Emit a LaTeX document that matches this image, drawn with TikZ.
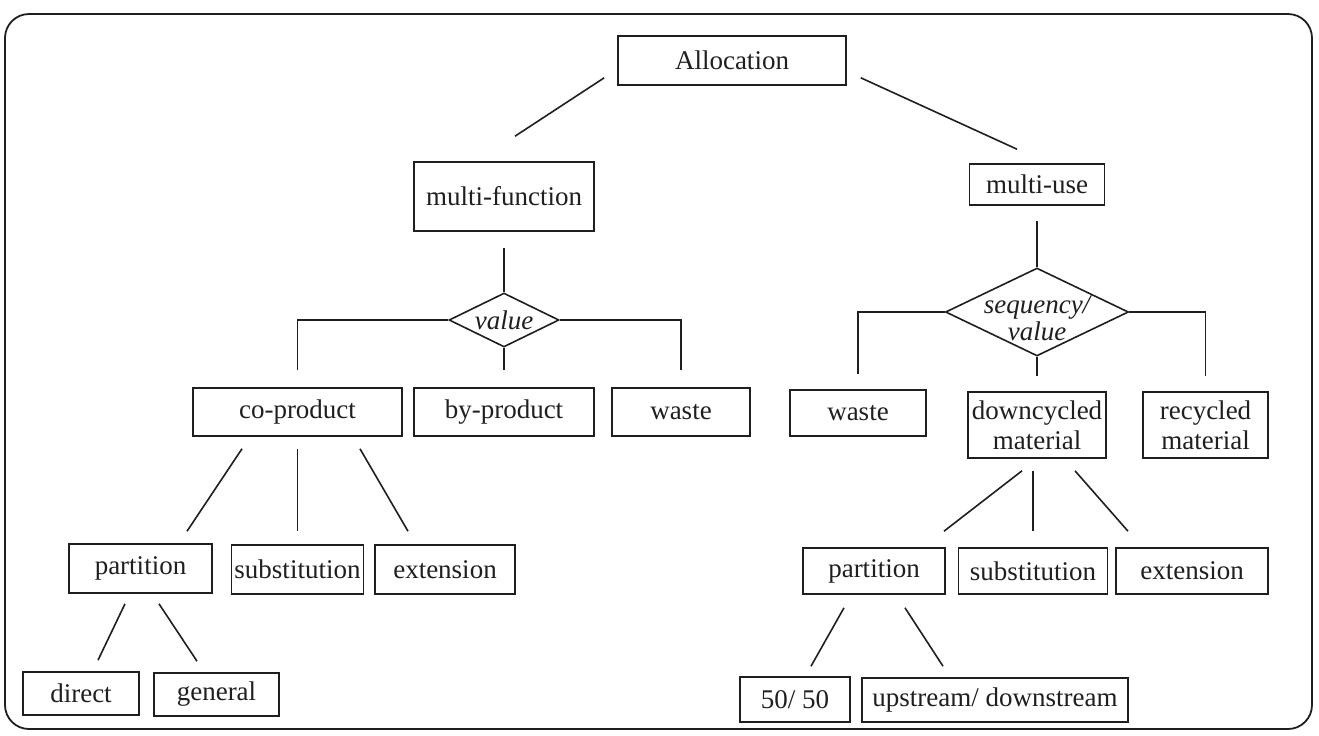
\documentclass[tikz,border=0pt]{standalone}
\usepackage{fontspec}
\setmainfont{Liberation Serif}
\usepackage{tikz}
\usetikzlibrary{
    shapes.geometric,
    calc
}
\tikzset{
  box/.style 2 args = {draw, line width=0.8pt, minimum width=#1*0.5pt,
                       minimum height=#2*0.5pt, inner sep=0pt, align=center,
                       font=\fontsize{13.5}{15}\selectfont},
  dmd/.style 2 args = {draw, shape=diamond, line width=0.8pt,
                       minimum width=#1*0.5pt, minimum height=#2*0.5pt,
                       inner sep=0pt},
  dtxt/.style    = {font=\fontsize{13.5}{13.5}\selectfont\itshape, align=center},
  lnk/.style     = {line width=0.8pt, lineC},
  frm/.style     = {line width=0.9pt, lineC, rounded corners=12pt}
}
\definecolor{lineC}{gray}{0.12}

\begin{document}
\begin{tikzpicture}[x=0.5pt, y=-0.5pt, color=lineC]

  \useasboundingbox (0,0) rectangle (1319,735);

  %% ── Frame ─────────────────────────────────────────────────────
  \draw[frm] (5,14) rectangle (1312,729);

  %% ── Top levels ────────────────────────────────────────────────
  \node[box={228}{49}, text depth=-1pt] (alloc) at ( 732, 60.5) {Allocation};
  \node[box={180}{69}] (mfun)  at ( 504,196.5) {multi-function};
  \node[box={135}{41}] (muse)  at (1037,184.5) {multi-use};

  %% ── Decision diamonds ─────────────────────────────────────────
  \node[dmd={110}{54}, label={[dtxt]center:value}]          (value) at ( 504,320) {};
  \node[dmd={183}{88}, label={[dtxt, yshift=-3pt]center:{sequency/\\value}}] (seq) at (1037,312) {};

  %% ── Multi-function branch ─────────────────────────────────────
  \node[box={209}{48}] (coprod) at (297.5,412) {co-product};
  \node[box={180}{48}] (byprod) at (504,412)   {by-product};
  \node[box={138}{48}] (wasteA) at (681,412)   {waste};

  \node[box={143}{49}] (partA)  at (140.5,568.5) {partition};
  \node[box={132}{49}] (substA) at (297.5,569.5) {substitution};
  \node[box={140}{49}] (extA)   at (445,569.5)   {extension};

  \node[box={116}{43}] (direct)  at ( 81,693.5)  {direct};
  \node[box={125}{43}] (general) at (216.5,694.5) {general};

  %% ── Multi-use branch ──────────────────────────────────────────
  \node[box={136}{46}] (wasteB) at ( 858,413)   {waste};
  \node[box={138}{66}] (downc)  at (1037,425)   {downcycled\\material};
  \node[box={125}{66}] (recyc)  at (1205.5,425) {recycled\\material};

  \node[box={142}{46}] (partB)  at ( 874,571) {partition};
  \node[box={149}{46}] (substB) at (1033,571) {substitution};
  \node[box={152}{46}] (extB)   at (1192,571) {extension};

  \node[box={110}{45}] (fifty)  at (795,699.5) {50/ 50};
  \node[box={266}{44}] (updown) at (995,700)   {upstream/ downstream};

  %% ── Connectors: top ───────────────────────────────────────────
  \draw[lnk] ([shift={(-13,-8)}]alloc.south west) -- ([shift={(11,-25)}]mfun.north);
  \draw[lnk] ([shift={(14,-8)}]alloc.south east)  -- ([shift={(-20,-14)}]muse.north);

  %% ── Connectors: diamonds ──────────────────────────────────────
  \draw[lnk] ([shift={(0,16)}]mfun.south) -- (value.north);
  \draw[lnk] (value.west)  -| ([shift={(0,-17)}]coprod.north);
  \draw[lnk] (value.south) -- ([shift={(0,-17)}]byprod.north);
  \draw[lnk] (value.east)  -| ([shift={(0,-17)}]wasteA.north);

  \draw[lnk] ([shift={(0,15)}]muse.south) -- (seq.north);
  \draw[lnk] (seq.west)  -| ([shift={(0,-15)}]wasteB.north);
  \draw[lnk] (seq.south) -- ([shift={(0,-15)}]downc.north);
  \draw[lnk] (seq.east)  -| ([shift={(0,-15)}]recyc.north);

  %% ── Connectors: lower trees ───────────────────────────────────
  \draw[lnk] ([shift={(-55.5,12)}]coprod.south) -- ([shift={(46.5,-12)}]partA.north);
  \draw[lnk] ([shift={(0,12)}]coprod.south)     -- ([shift={(0,-13)}]substA.north);
  \draw[lnk] ([shift={(62.5,12)}]coprod.south)  -- ([shift={(-37,-13)}]extA.north);

  \draw[lnk] ([shift={(-15.5,10)}]partA.south) -- ([shift={(17,-11)}]direct.north);
  \draw[lnk] ([shift={(18.5,10)}]partA.south)  -- ([shift={(-19.5,-11)}]general.north);

  \draw[lnk] ([shift={(-15,12)}]downc.south) -- ([shift={(70,-16)}]partB.north);
  \draw[lnk] ([shift={(-4,12)}]downc.south)  -- ([shift={(0,-16)}]substB.north);
  \draw[lnk] ([shift={(38,12)}]downc.south)  -- ([shift={(-64,-16)}]extB.north);

  \draw[lnk] ([shift={(-30,13)}]partB.south) -- ([shift={(16,-10)}]fifty.north);
  \draw[lnk] ([shift={(31,13)}]partB.south)  -- ([shift={(-52,-11)}]updown.north);

\end{tikzpicture}
\end{document}
